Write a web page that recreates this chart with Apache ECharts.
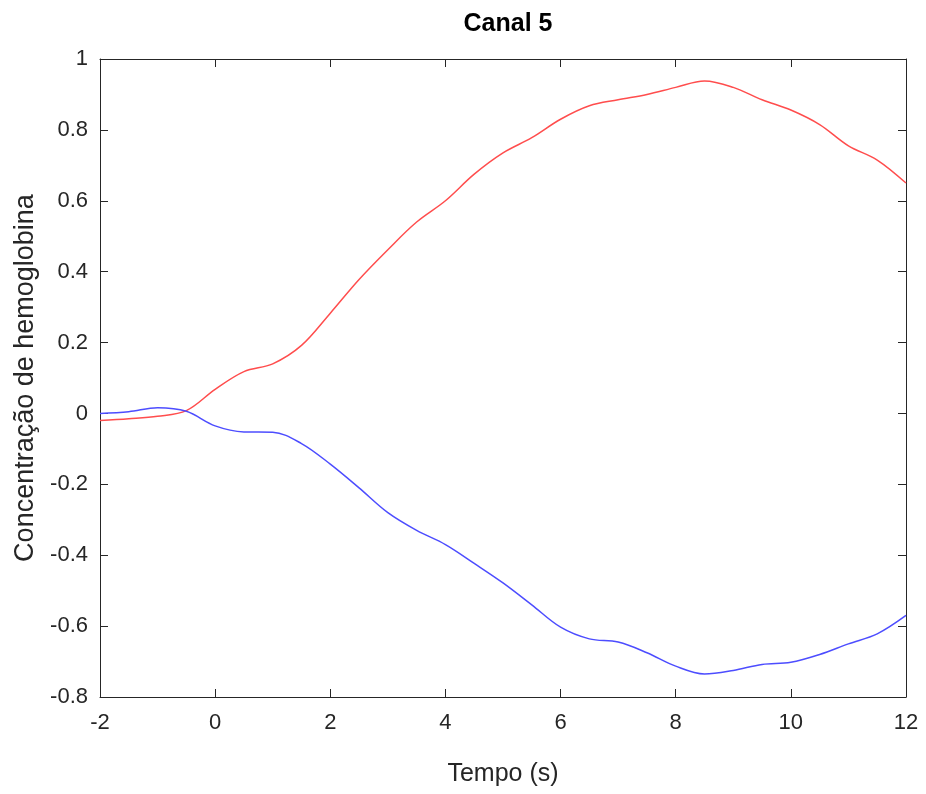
<!DOCTYPE html>
<html>
<head>
<meta charset="utf-8">
<title>Canal 5</title>
<script src="https://cdn.jsdelivr.net/npm/echarts@6/dist/echarts.min.js"></script>
<style>
  html, body { margin: 0; padding: 0; background: #fff; }
  #chart { width: 926px; height: 794px; }
</style>
</head>
<body>
<div id="chart"></div>
<script>
// tempo (s)
var tempo = [-2, -1.5, -1, -0.5, 0, 0.5, 1, 1.5, 2, 2.5, 3, 3.5, 4, 4.5, 5, 5.5, 6, 6.5, 7, 7.5, 8, 8.5, 9, 9.5, 10, 10.5, 11, 11.5, 12]
// curva vermelha
var vermelho = [-0.020, -0.015, -0.008, 0.008, 0.068, 0.118, 0.140, 0.192, 0.283, 0.378, 0.462, 0.540, 0.600, 0.675, 0.735, 0.778, 0.830, 0.868, 0.885, 0.900, 0.920, 0.938, 0.920, 0.885, 0.856, 0.815, 0.755, 0.715, 0.650]
// curva azul
var azul = [0.000, 0.005, 0.016, 0.006, -0.035, -0.052, -0.053, -0.085, -0.143, -0.210, -0.280, -0.330, -0.370, -0.423, -0.478, -0.540, -0.603, -0.636, -0.645, -0.675, -0.713, -0.735, -0.725, -0.708, -0.702, -0.680, -0.650, -0.622, -0.570]

var corEixo = '#262626'
var fonte = 'Liberation Sans, Arial, sans-serif'

function pares(xs, ys) {
  var out = []
  for (var i = 0; i < xs.length; i++) out.push([xs[i], ys[i]])
  return out
}

var chart = echarts.init(document.getElementById('chart'))

var eixoBase = {
  type: 'value',
  axisLine: { show: true, onZero: false, lineStyle: { color: corEixo, width: 1 } },
  axisTick: { show: true, inside: true, length: 8, lineStyle: { color: corEixo } },
  splitLine: { show: false }
}

chart.setOption({
  animation: false,
  title: {
    text: 'Canal 5',
    left: 503,
    textAlign: 'center',
    top: 7,
    textStyle: { fontFamily: fonte, fontSize: 25, fontWeight: 'bold', color: '#000' }
  },
  grid: { left: 100, right: 20, top: 59, bottom: 97 },
  xAxis: [
    Object.assign({}, eixoBase, {
      position: 'bottom',
      min: -2, max: 12, interval: 2,
      name: 'Tempo (s)',
      nameLocation: 'middle',
      nameGap: 65,
      nameTextStyle: { fontFamily: fonte, fontSize: 25, color: '#262626' },
      axisLabel: { fontFamily: fonte, fontSize: 22, color: '#262626', margin: 15 }
    }),
    Object.assign({}, eixoBase, {
      position: 'top',
      min: -2, max: 12, interval: 2,
      axisLabel: { show: false }
    })
  ],
  yAxis: [
    Object.assign({}, eixoBase, {
      position: 'left',
      min: -0.8, max: 1, interval: 0.2,
      name: 'Concentração de hemoglobina',
      nameLocation: 'middle',
      nameGap: 59,
      nameTextStyle: { fontFamily: fonte, fontSize: 27, color: '#262626' },
      axisLabel: {
        fontFamily: fonte, fontSize: 22, color: '#262626', margin: 12,
        formatter: function (v) { return String(+v.toFixed(1)) }
      }
    }),
    Object.assign({}, eixoBase, {
      position: 'right',
      min: -0.8, max: 1, interval: 0.2,
      axisLabel: { show: false }
    })
  ],
  series: [
    {
      type: 'line',
      data: pares(tempo, vermelho),
      smooth: 0.35,
      showSymbol: false,
      lineStyle: { color: '#ff4d4d', width: 1.5 },
      z: 2
    },
    {
      type: 'line',
      data: pares(tempo, azul),
      smooth: 0.35,
      showSymbol: false,
      lineStyle: { color: '#4d4dff', width: 1.5 },
      z: 3
    }
  ]
})
</script>
</body>
</html>
